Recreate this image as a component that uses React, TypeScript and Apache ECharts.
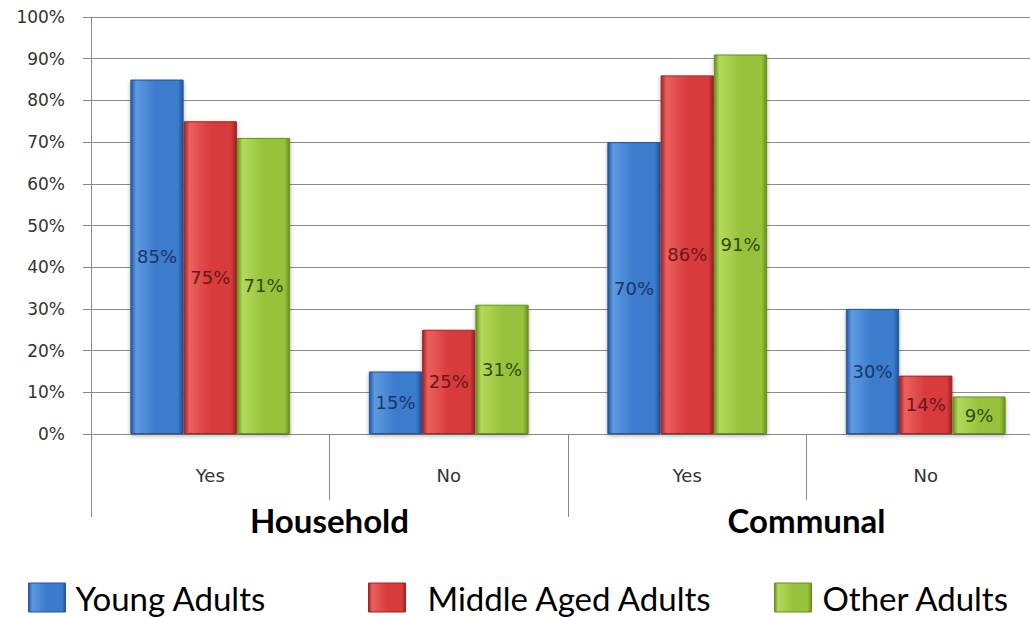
import React, { useEffect, useRef } from "react";
import * as echarts from "echarts";

const categories = ["Yes", "No", "Yes", "No"];
const groups = ["Household", "Communal"];
const seriesNames = ["Young Adults", "Middle Aged Adults", "Other Adults"];
const youngAdults = [85, 15, 70, 30];
const middleAgedAdults = [75, 25, 86, 14];
const otherAdults = [71, 31, 91, 9];

const FONT = "Lato, 'Open Sans', sans-serif";
const SMALL = "'DejaVu Sans', sans-serif";

const palette = [
  { dark: "#22569c", mid: "#3b7bcc", light: "#5e9ae2", label: "#1b3566" },
  { dark: "#a32222", mid: "#d83b3b", light: "#ec6060", label: "#6a1717" },
  { dark: "#67901f", mid: "#98c23b", light: "#b4d95c", label: "#2f4b0c" },
];

function grad(p: { dark: string; mid: string; light: string }) {
  return new echarts.graphic.LinearGradient(0, 0, 1, 0, [
    { offset: 0, color: p.dark },
    { offset: 0.1, color: p.light },
    { offset: 0.5, color: p.mid },
    { offset: 0.9, color: p.mid },
    { offset: 1, color: p.dark },
  ]);
}

export default function App() {
  const ref = useRef<HTMLDivElement>(null);
  useEffect(() => {
    document.body.style.margin = "0";
    const chart = echarts.init(ref.current!, undefined, { renderer: "svg" });
    const values = [youngAdults, middleAgedAdults, otherAdults];
    const legendLefts = [23, 363, 769];
    const legendPads = [5, 17, 6];
    chart.setOption({
      animation: false,
      backgroundColor: "#ffffff",
      textStyle: { fontFamily: FONT },
      grid: { left: 91, top: 17, bottom: 183, right: 0 },
      legend: seriesNames.map((n, i) => ({
        data: [{ name: n, itemStyle: { color: grad(palette[i]), borderColor: palette[i].dark, borderWidth: 1 } }],
        left: legendLefts[i],
        top: 576,
        itemWidth: 37,
        itemHeight: 29,
        icon: "rect",
        selectedMode: false,
        textStyle: { fontFamily: FONT, fontSize: 33, color: "#000", padding: [0, 0, 0, legendPads[i]] },
      })),
      xAxis: [
        {
          type: "category",
          data: categories,
          axisLine: { show: true, lineStyle: { color: "#888", width: 1 } },
          axisTick: { show: true, interval: 0, length: 66, lineStyle: { color: "#888" } },
          axisLabel: { interval: 0, margin: 32, fontSize: 18, color: "#333", fontFamily: SMALL },
        },
        {
          type: "category",
          data: groups,
          position: "bottom",
          axisLine: { show: false },
          axisTick: { show: true, interval: 0, length: 83, lineStyle: { color: "#888" } },
          axisLabel: { interval: 0, margin: 69, fontSize: 33, fontWeight: "bold", color: "#000", fontFamily: FONT },
        },
      ],
      yAxis: {
        type: "value",
        min: 0,
        max: 100,
        interval: 10,
        axisLine: { show: true, lineStyle: { color: "#888" } },
        axisTick: { show: true, length: 8, lineStyle: { color: "#888" } },
        splitLine: { show: true, lineStyle: { color: "#8c8c8c", width: 1 } },
        axisLabel: { formatter: "{value}%", fontSize: 17, color: "#333", margin: 26, fontFamily: SMALL },
      },
      series: seriesNames.map((n, i) => ({
        name: n,
        type: "bar",
        xAxisIndex: 0,
        data: values[i],
        barGap: "0%",
        barCategoryGap: "33%",
        itemStyle: {
          color: grad(palette[i]),
          borderColor: palette[i].dark,
          borderWidth: 1,
          shadowColor: "rgba(0,0,0,0.3)",
          shadowBlur: 4,
          shadowOffsetY: 2,
        },
        label: {
          show: true,
          position: "inside",
          formatter: "{c}%",
          fontSize: 18,
          color: palette[i].label,
          fontFamily: SMALL,
        },
      })),
    });
    return () => chart.dispose();
  }, []);
  return (
    <div style={{ width: 1030, height: 617, overflow: "hidden", position: "relative" }}>
      <div ref={ref} style={{ width: 1045, height: 617 }} />
    </div>
  );
}
